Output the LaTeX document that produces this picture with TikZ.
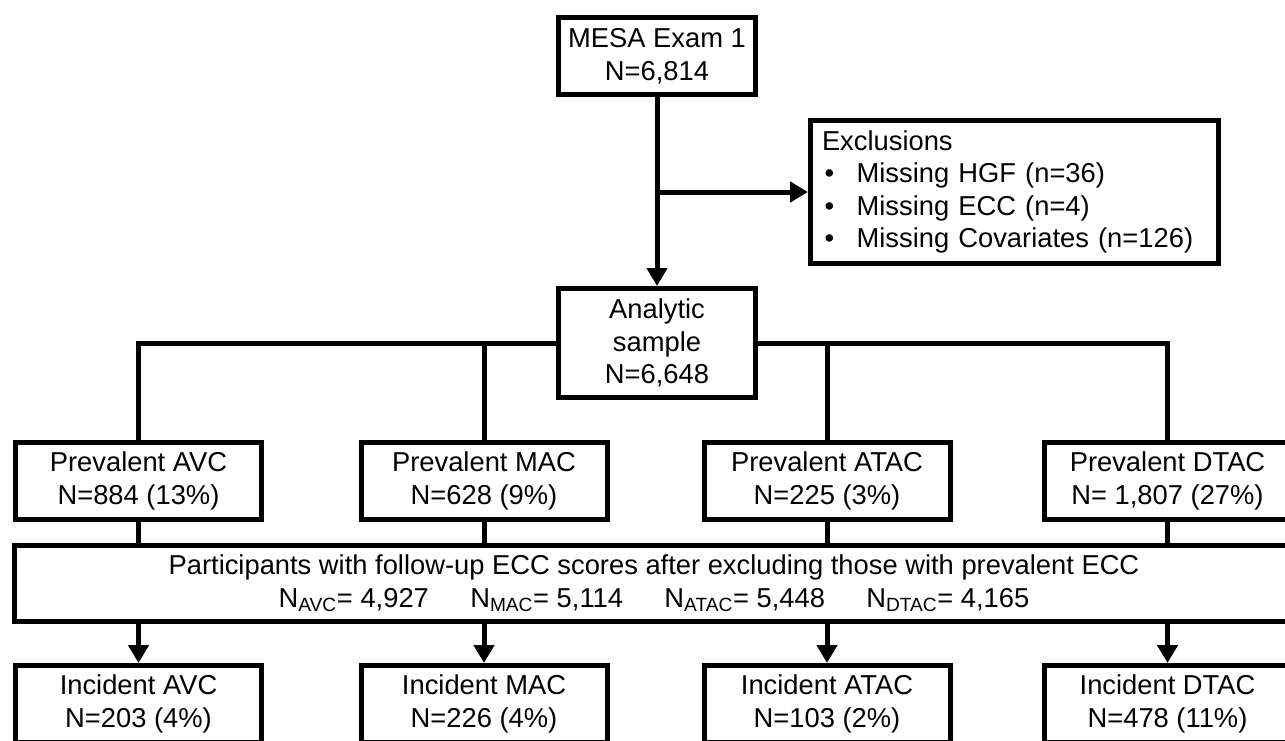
\documentclass[tikz,border=0pt]{standalone}
\usepackage{fontspec}
\setmainfont{Liberation Sans}
\usetikzlibrary{arrows.meta}

\newcommand\bul{\makebox[26pt][l]{\hspace{2pt}\textbullet}}

\tikzset{
	box/.style={draw, line width=3.75pt, align=center, inner sep=0pt, minimum width=147.75pt, minimum height=57.75pt},
	flow/.style={line width=3.75pt},
	arr/.style={flow, -{Triangle[length=13.5pt, width=15pt]}},
}

\begin{document}
\begin{tikzpicture}[x=0.75pt, y=-0.75pt, font=\fontsize{20.5}{24.4}\selectfont]
		\useasboundingbox (0,0) rectangle (1285,740);
		\clip (0,0) rectangle (1285,740);

		\node[box] (mesa) at (657,56) {MESA Exam 1\\N=6,814};
		\node[box, align=left, minimum width=306pt, minimum height=107.25pt, text width=288.75pt, inner xsep=8.6pt] (excl) at (1014.5,192)
			{Exclusions\\ \bul Missing HGF (n=36)\\ \bul Missing ECC (n=4)\\ \bul Missing Covariates (n=126)};
		\node[box, minimum height=81.75pt] (ana) at (657,343) {Analytic\\sample\\N=6,648};
		\node[box, minimum width=959.25pt, minimum height=57pt] (big) at (654,583.5)
			{Participants with follow-up ECC scores after excluding those with prevalent ECC\\
			N\textsubscript{AVC}= 4,927\hspace{31pt}N\textsubscript{MAC}= 5,114\hspace{31pt}N\textsubscript{ATAC}= 5,448\hspace{31pt}N\textsubscript{DTAC}= 4,165};

		\draw[arr] (mesa) -- (ana);
		\coordinate (split) at (mesa.south |- excl.west);
		\draw[arr] (split) -- (excl);

		\foreach \ecc/\x/\prev/\inc [count=\i] in {
			AVC/138.5/{N=884 (13\%)}/{N=203 (4\%)},
			MAC/484/{N=628 (9\%)}/{N=226 (4\%)},
			ATAC/827/{N=225 (3\%)}/{N=103 (2\%)},
			DTAC/1167.5/{N= 1,807 (27\%)}/{N=478 (11\%)}} {
			\node[box, minimum width=184.5pt] (prev\i) at (\x,481) {Prevalent \ecc\\\prev};
			\node[box, minimum width=184.5pt] (inc\i) at (\x,704) {Incident \ecc\\\inc};
			\draw[flow] (prev\i.south) -- (prev\i.south |- big.north);
			\draw[arr] (big.south -| inc\i.north) -- (inc\i);
		}

		\draw[flow] (prev1.north) |- (ana.west);
		\draw[flow] (prev4.north) |- (ana.east);
		\draw[flow] (prev2.north) -- (prev2.north |- ana.west);
		\draw[flow] (prev3.north) -- (prev3.north |- ana.east);
	\end{tikzpicture}
\end{document}
